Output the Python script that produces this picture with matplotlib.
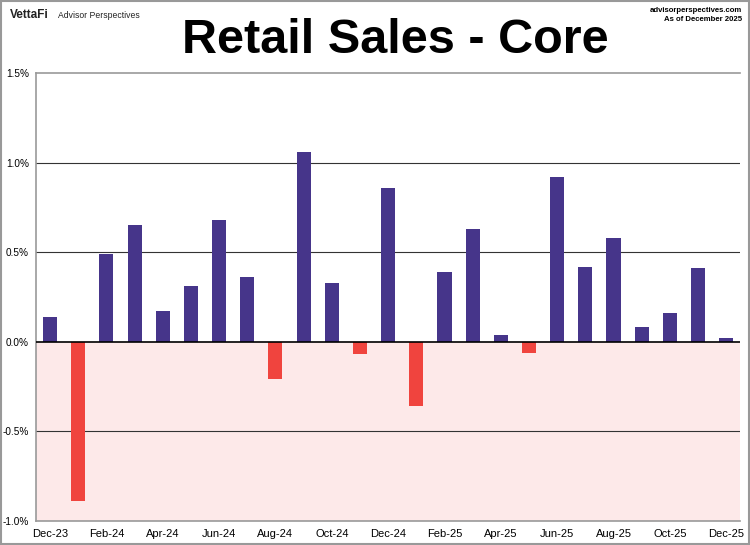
import matplotlib
matplotlib.use('Agg')
import matplotlib.pyplot as plt
import numpy as np

months = ['Dec-23', 'Jan-24', 'Feb-24', 'Mar-24', 'Apr-24', 'May-24', 'Jun-24',
          'Jul-24', 'Aug-24', 'Sep-24', 'Oct-24', 'Nov-24', 'Dec-24', 'Jan-25',
          'Feb-25', 'Mar-25', 'Apr-25', 'May-25', 'Jun-25', 'Jul-25', 'Aug-25',
          'Sep-25', 'Oct-25', 'Nov-25', 'Dec-25']
values = [0.14, -0.89, 0.49, 0.65, 0.17, 0.31, 0.68, 0.36, -0.21, 1.06,
          0.33, -0.07, 0.86, -0.36, 0.39, 0.63, 0.04, -0.06, 0.92, 0.42,
          0.58, 0.08, 0.16, 0.41, 0.02]
y_ticks = [-1.0, -0.5, 0.0, 0.5, 1.0, 1.5]

plt.rcParams['font.family'] = ['Liberation Sans', 'DejaVu Sans']

fig = plt.figure(figsize=(7.5, 5.45), dpi=100)
fig.patch.set_facecolor('white')
ax = fig.add_axes([0.048, 0.044, 0.939, 0.822])

x = np.arange(len(values))
colors = ['#46358A' if v >= 0 else '#F0443E' for v in values]

# pink shading below zero
ax.axhspan(-1.0, 0.0, color='#FDE9E9', zorder=0)
for t in y_ticks:
    if t not in (0.0, -1.0, 1.5):
        ax.axhline(t, color='#333333', linewidth=0.8, zorder=1)

ax.bar(x, values, width=0.5, color=colors, zorder=2)
ax.axhline(0, color='black', linewidth=1.2, zorder=3)

ax.set_xlim(-0.5, 24.5)
ax.set_ylim(-1.0, 1.5)
ax.set_yticks(y_ticks)
ax.set_yticklabels([f'{t:.1f}%' for t in y_ticks], fontsize=7.2)
ax.set_xticks(x[::2])
ax.set_xticklabels(months[::2], fontsize=8)
ax.tick_params(axis='y', length=0, pad=5)
ax.tick_params(axis='x', length=0, pad=6)

ax.spines['right'].set_visible(False)
for side in ('left', 'bottom', 'top'):
    ax.spines[side].set_color('#999999')
    ax.spines[side].set_linewidth(1.2)

fig.text(0.527, 0.925, 'Retail Sales - Core', ha='center', va='center',
         fontsize=35, fontweight='bold')
fig.text(0.013, 0.972, 'VettaFi', ha='left', va='center', fontsize=8.5,
         fontweight='bold', color='#222222')
fig.text(0.077, 0.971, 'Advisor Perspectives', ha='left', va='center',
         fontsize=6.2, color='#222222')
fig.text(0.989, 0.981, 'advisorperspectives.com', ha='right', va='center',
         fontsize=5.6, fontweight='bold')
fig.text(0.989, 0.964, 'As of December 2025', ha='right', va='center',
         fontsize=5.6, fontweight='bold')

# outer border
fig.add_artist(plt.Rectangle((0.001, 0.001), 0.998, 0.998, transform=fig.transFigure,
                             fill=False, edgecolor='#999999', linewidth=1.5))

fig.savefig('out.png', dpi=100, facecolor=fig.get_facecolor())
plt.close(fig)
